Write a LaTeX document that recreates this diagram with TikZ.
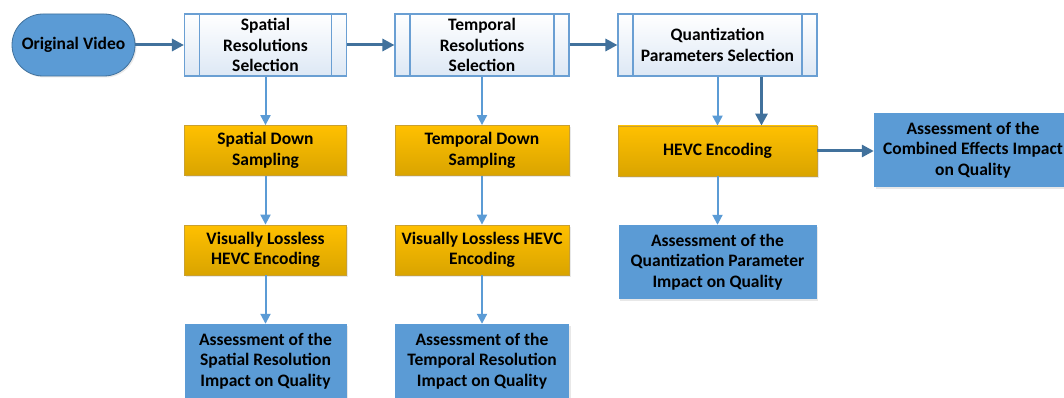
\documentclass[tikz,border=0pt]{standalone}
\usepackage{fontspec}
\setmainfont{Carlito}
\usetikzlibrary{arrows.meta,shadows}

\definecolor{selborder}{HTML}{6A9FD3}
\definecolor{selfill}{HTML}{DDE8F5}
\definecolor{ortop}{HTML}{FFC000}
\definecolor{orbot}{HTML}{D9A400}
\definecolor{orborder}{HTML}{C9A030}
\definecolor{boxblue}{HTML}{5B9BD5}
\definecolor{ovborder}{HTML}{41719C}
\definecolor{thinblue}{HTML}{5B9BD5}
\definecolor{thickblue}{HTML}{41719C}

\tikzset{
  base/.style={align=center, inner sep=0pt, text=black,
    font=\bfseries\fontsize{17.5}{20.5}\selectfont},
  softshadow/.style={drop shadow={opacity=0.18, shadow xshift=1.5pt, shadow yshift=-1.5pt}},
  selbox/.style={base, draw=selborder, line width=1.1pt, top color=white, bottom color=selfill,
    minimum height=62pt,
    path picture={\draw[selborder, line width=1.1pt]
      ([xshift=15pt]path picture bounding box.north west) -- ([xshift=15pt]path picture bounding box.south west)
      ([xshift=-15pt]path picture bounding box.north east) -- ([xshift=-15pt]path picture bounding box.south east);}},
  orbox/.style={base, draw=orborder, line width=0.8pt, top color=ortop, bottom color=orbot,
    minimum height=50pt, softshadow},
  bluebox/.style={base, fill=boxblue, minimum height=74pt, softshadow},
  startbox/.style={base, draw=ovborder, line width=0.8pt, fill=boxblue, rounded corners=31pt,
    minimum width=123pt, minimum height=62pt, softshadow},
  thinarrow/.style={draw=thinblue, line width=2pt, -{Triangle[width=10pt,length=10pt]}},
  thickarrow/.style={draw=thickblue, line width=3pt, -{Triangle[width=12pt,length=12pt]}},
}

\begin{document}
\begin{tikzpicture}[x=1pt,y=-1pt]
  \useasboundingbox (0,0) rectangle (1064,398);
  \clip (0,0) rectangle (1064,398);

  % start of the process
  \node[startbox] (ov) at (73.5,45) {Original Video};

  % selection stages
  \node[selbox, minimum width=162pt] (ss) at (265.5,45) {Spatial\\Resolutions\\Selection};
  \node[selbox, minimum width=174pt] (ts) at (482,45) {Temporal\\Resolutions\\Selection};
  \node[selbox, minimum width=199pt] (qs) at (717.5,45) {Quantization\\Parameters Selection};

  % spatial branch
  \node[orbox, minimum width=162pt] (sd) at (265.5,150.5) {Spatial Down\\Sampling};
  \node[orbox, minimum width=162pt] (sv) at (265.5,250) {Visually Lossless\\HEVC Encoding};
  \node[bluebox, minimum width=162pt] (sa) at (265.5,361) {Assessment of the\\Spatial Resolution\\Impact on Quality};

  % temporal branch
  \node[orbox, minimum width=174pt] (td) at (482,150.5) {Temporal Down\\Sampling};
  \node[orbox, minimum width=174pt] (tv) at (482,250) {Visually Lossless HEVC\\Encoding};
  \node[bluebox, minimum width=174pt] (ta) at (482,361) {Assessment of the\\Temporal Resolution\\Impact on Quality};

  % quantization branch
  \node[orbox, minimum width=199pt] (he) at (717.5,151) {HEVC Encoding};
  \node[bluebox, minimum width=198pt] (qa) at (717.5,262) {Assessment of the\\Quantization Parameter\\Impact on Quality};
  \node[bluebox, minimum width=198pt] (ce) at (973,150) {Assessment of the\\Combined Effects Impact\\on Quality};

  % main flow
  \draw[thickarrow] (ov) -- (ss);
  \draw[thickarrow] (ss) -- (ts);
  \draw[thickarrow] (ts) -- (qs);

  % spatial flow
  \draw[thinarrow] (ss) -- (sd);
  \draw[thinarrow] (sd) -- (sv);
  \draw[thinarrow] (sv) -- (sa);

  % temporal flow
  \draw[thinarrow] (ts) -- (td);
  \draw[thinarrow] (td) -- (tv);
  \draw[thinarrow] (tv) -- (ta);

  % quantization flow
  \draw[thinarrow] (qs) -- (he);
  \draw[thickarrow] ([xshift=44pt]qs.south) -- ([xshift=44pt]he.north);
  \draw[thinarrow] (he) -- (qa);
  \draw[thickarrow] (he.east) -- (he.east -| ce.west);
\end{tikzpicture}
\end{document}
